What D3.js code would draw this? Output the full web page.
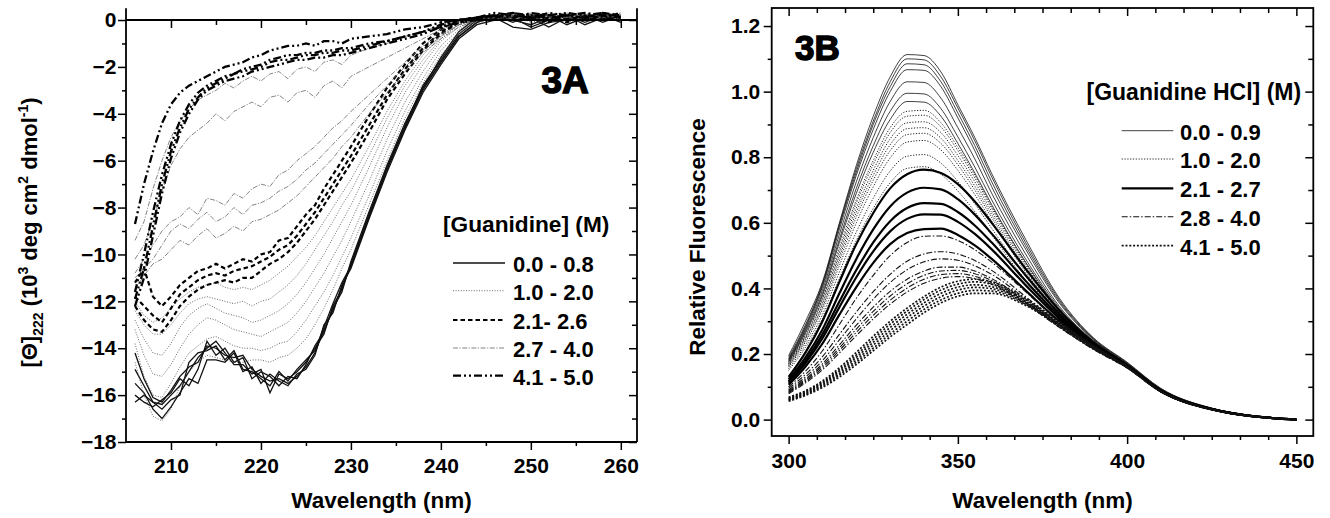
<!DOCTYPE html>
<html>
<head>
<meta charset="utf-8">
<script src="https://cdn.jsdelivr.net/npm/d3@7"></script>
<style>
  body { margin: 0; background: #fff; }
  svg text { font-family: "Liberation Sans", Arial, sans-serif; font-weight: bold; fill: #000; white-space: pre; }
</style>
</head>
<body>
<svg id="chart" width="1330" height="518"></svg>
<script>
// ---------- 3A : CD signal, one row per guanidine concentration ----------
const wlA = [206,207,208,209,210,211,212,213,214,215,216,217,218,219,220,221,222,223,224,225,226,227,228,229,230,
  232,234,236,238,240,242,244,246,248,250,252,254,256,258,260];

const cdLow = [ // 0.0 - 0.8 M
  [-14.2,-15.3,-16.1,-16.3,-15.8,-15.2,-14.8,-14.6,-13.9,-14.0,-14.3,-14.4,-14.3,-14.9,-15.2,-15.4,-15.3,-15.5,-15.2,-14.8,-14.2,-13.2,-12.4,-11.4,-10.5,-8.4,-6.4,-4.6,-3.0,-1.8,-0.7,-0.1,0.2,0.0,-0.2,0.1,0.2,-0.1,0.2,0.1],
  [-14.9,-15.6,-16.3,-16.4,-16.0,-15.6,-15.0,-14.4,-14.0,-13.7,-14.2,-14.7,-14.7,-15.1,-14.9,-15.9,-15.1,-15.3,-15.0,-14.6,-14.0,-13.4,-12.2,-11.5,-10.4,-8.3,-6.3,-4.5,-2.8,-1.7,-0.6,0.0,0.1,-0.3,-0.4,-0.1,0.0,0.2,-0.1,0.2],
  [-15.5,-15.9,-16.6,-17.0,-16.5,-15.9,-15.3,-15.5,-14.5,-14.5,-14.6,-14.2,-15.0,-14.8,-15.5,-15.1,-15.4,-15.6,-15.1,-14.9,-14.3,-13.0,-12.5,-11.3,-10.6,-8.5,-6.5,-4.7,-3.1,-1.9,-0.8,-0.2,0.0,0.2,0.1,-0.3,0.1,0.0,0.2,-0.1],
  [-16.0,-16.3,-16.5,-16.2,-15.9,-15.3,-15.6,-14.9,-13.7,-14.3,-14.0,-14.6,-14.4,-15.3,-15.0,-15.2,-15.6,-15.2,-15.3,-14.7,-13.9,-13.3,-12.3,-11.6,-10.3,-8.2,-6.2,-4.4,-2.9,-1.6,-0.5,0.1,0.2,-0.1,0.2,0.2,-0.2,0.1,0.0,0.2],
  [-16.3,-16.0,-16.3,-16.6,-16.2,-16.0,-14.6,-14.2,-14.1,-13.9,-14.5,-14.1,-14.9,-15.0,-15.3,-15.6,-15.0,-15.4,-14.9,-14.5,-14.1,-13.1,-12.1,-11.2,-10.5,-8.4,-6.3,-4.6,-2.9,-1.8,-0.7,-0.1,0.1,0.1,-0.3,0.0,0.2,-0.2,0.1,0.0]
];
const cdMid1 = [ // 1.0 - 2.0 M
  [-14.6,-16.0,-16.9,-17.1,-16.6,-15.6,-15.0,-14.6,-14.3,-14.4,-14.5,-14.6,-14.6,-14.5,-14.5,-14.6,-14.4,-14.3,-14.0,-13.6,-13.0,-12.3,-11.5,-10.6,-9.8,-7.9,-6.0,-4.2,-2.7,-1.5,-0.6,-0.1,0.1,0.0,-0.2,0.1,0.0,0.2,0.1,0.0],
  [-13.8,-15.2,-16.0,-16.1,-15.5,-14.8,-14.2,-13.9,-13.6,-13.5,-13.7,-13.9,-14.0,-14.0,-14.1,-14.0,-13.8,-13.7,-13.3,-12.8,-12.2,-11.6,-10.9,-10.1,-9.3,-7.5,-5.6,-3.9,-2.5,-1.3,-0.5,0.0,0.2,0.1,0.0,-0.1,0.2,0.0,0.1,0.2],
  [-13.2,-14.3,-15.1,-15.2,-14.7,-14.0,-13.4,-13.0,-12.7,-12.8,-13.0,-13.2,-13.3,-13.4,-13.5,-13.3,-13.1,-12.9,-12.5,-12.0,-11.4,-10.8,-10.1,-9.4,-8.6,-6.9,-5.1,-3.5,-2.2,-1.1,-0.4,0.0,0.1,0.2,0.1,0.0,-0.1,0.1,0.2,0.0],
  [-12.8,-13.6,-14.2,-14.3,-13.8,-13.1,-12.6,-12.3,-12.1,-12.3,-12.5,-12.6,-12.7,-12.9,-12.8,-12.6,-12.4,-12.1,-11.7,-11.2,-10.6,-10.0,-9.3,-8.6,-7.9,-6.3,-4.6,-3.1,-1.9,-0.9,-0.3,0.0,0.2,0.0,0.1,0.2,0.0,-0.1,0.1,0.1],
  [-12.4,-13.0,-13.4,-13.4,-13.0,-12.5,-12.1,-11.9,-11.8,-11.9,-12.0,-12.1,-12.0,-12.2,-12.0,-11.9,-11.6,-11.3,-10.9,-10.4,-9.8,-9.2,-8.6,-7.9,-7.3,-5.8,-4.2,-2.8,-1.7,-0.8,-0.2,0.0,0.1,0.2,-0.1,0.1,0.2,0.0,0.2,0.1],
  [-12.0,-12.6,-12.9,-12.7,-12.3,-11.9,-11.6,-11.4,-11.3,-11.2,-11.4,-11.5,-11.4,-11.5,-11.3,-11.1,-10.8,-10.5,-10.1,-9.7,-9.2,-8.6,-8.0,-7.4,-6.8,-5.4,-3.9,-2.6,-1.5,-0.7,-0.2,0.1,0.2,0.1,0.0,0.2,0.1,0.2,0.0,0.1]
];
const cdMid2 = [ // 2.1 - 2.6 M
  [-11.2,-10.6,-11.8,-12.2,-11.8,-11.3,-11.0,-10.7,-10.6,-10.4,-10.6,-10.4,-10.2,-10.3,-10.0,-9.9,-9.4,-9.3,-8.8,-8.3,-7.9,-7.2,-6.6,-6.0,-5.4,-4.1,-2.9,-1.9,-1.0,-0.4,0.0,0.1,0.2,0.0,0.1,-0.1,0.2,0.1,0.0,0.2],
  [-11.8,-12.2,-12.6,-12.9,-12.3,-11.7,-11.4,-11.1,-10.9,-10.8,-10.9,-10.7,-10.6,-10.5,-10.3,-10.1,-9.8,-9.6,-9.2,-8.7,-8.2,-7.6,-7.0,-6.4,-5.8,-4.5,-3.2,-2.1,-1.2,-0.5,-0.1,0.0,0.1,0.2,0.0,0.1,-0.1,0.2,0.1,0.0],
  [-12.2,-12.8,-13.2,-13.3,-12.8,-12.2,-11.8,-11.5,-11.3,-11.2,-11.1,-11.2,-11.0,-11.0,-10.7,-10.4,-10.2,-9.9,-9.5,-9.0,-8.5,-7.9,-7.3,-6.7,-6.1,-4.8,-3.4,-2.3,-1.3,-0.6,-0.1,0.0,0.2,0.1,0.2,0.0,0.1,0.0,0.2,0.1]
];
const cdMid3 = [ // 2.7 - 4.0 M
  [-9.4,-8.6,-7.2,-6.0,-5.0,-4.3,-3.8,-3.4,-3.2,-3.0,-2.7,-2.9,-2.6,-2.4,-2.6,-2.3,-2.2,-2.5,-2.1,-2.0,-2.2,-1.8,-1.7,-1.9,-1.5,-1.2,-1.0,-0.7,-0.5,-0.2,0.0,0.1,0.2,0.1,0.3,0.1,0.2,0.0,0.3,0.2],
  [-10.2,-9.6,-8.5,-7.3,-6.2,-5.5,-5.0,-4.7,-4.4,-4.0,-4.3,-3.9,-3.7,-3.5,-3.7,-3.3,-3.2,-3.5,-3.1,-3.0,-3.3,-2.8,-2.6,-2.9,-2.4,-2.0,-1.6,-1.2,-0.8,-0.4,-0.1,0.0,0.1,0.2,0.0,0.2,0.1,0.3,0.1,0.2],
  [-10.8,-10.2,-9.6,-9.0,-8.6,-8.4,-8.0,-8.3,-7.6,-7.7,-7.9,-7.4,-7.6,-7.2,-7.0,-7.1,-6.6,-6.4,-6.0,-5.7,-5.4,-5.0,-4.6,-4.3,-3.9,-3.2,-2.5,-1.8,-1.1,-0.6,-0.2,0.0,0.2,0.1,0.2,0.0,0.3,0.1,0.2,0.1],
  [-11.0,-10.6,-10.2,-9.6,-9.0,-8.7,-8.9,-8.5,-8.2,-8.6,-8.4,-8.0,-8.3,-7.9,-7.8,-7.6,-7.3,-7.1,-6.8,-6.4,-6.1,-5.7,-5.3,-4.9,-4.5,-3.6,-2.8,-2.0,-1.3,-0.7,-0.2,0.0,0.1,0.3,0.1,0.2,0.0,0.2,0.1,0.3],
  [-11.5,-10.9,-10.4,-10.2,-9.8,-9.4,-9.6,-9.2,-8.9,-9.3,-9.1,-8.8,-9.0,-8.6,-8.5,-8.3,-8.1,-7.8,-7.5,-7.1,-6.7,-6.3,-5.9,-5.4,-5.0,-4.0,-3.1,-2.2,-1.4,-0.8,-0.3,0.0,0.2,0.0,0.2,0.3,0.1,0.2,0.3,0.1]
];
const cdHigh = [ // 4.1 - 5.0 M
  [-8.7,-7.0,-5.6,-4.4,-3.6,-3.1,-2.8,-2.6,-2.4,-2.2,-2.0,-1.9,-1.8,-1.6,-1.5,-1.3,-1.2,-1.1,-1.1,-1.0,-1.1,-0.9,-0.9,-1.0,-0.8,-0.7,-0.6,-0.4,-0.3,-0.1,0.0,0.1,0.2,0.3,0.1,0.2,0.3,0.2,0.1,0.3],
  [-11.6,-10.0,-8.2,-6.6,-5.3,-4.3,-3.6,-3.1,-2.8,-2.6,-2.4,-2.3,-2.1,-2.0,-1.9,-1.7,-1.6,-1.5,-1.5,-1.4,-1.4,-1.3,-1.3,-1.2,-1.2,-1.0,-0.9,-0.7,-0.5,-0.2,0.0,0.1,0.3,0.2,0.1,0.3,0.2,0.1,0.3,0.2],
  [-11.9,-10.6,-8.8,-7.0,-5.6,-4.6,-3.8,-3.3,-2.9,-2.7,-2.5,-2.3,-2.2,-2.1,-2.0,-1.8,-1.7,-1.7,-1.6,-1.5,-1.5,-1.4,-1.4,-1.3,-1.3,-1.1,-0.9,-0.7,-0.5,-0.3,0.0,0.1,0.1,0.3,0.2,0.1,0.2,0.3,0.2,0.1],
  [-12.2,-11.0,-9.2,-7.4,-5.9,-4.8,-4.0,-3.4,-3.0,-2.8,-2.6,-2.5,-2.4,-2.2,-2.1,-2.0,-1.9,-1.8,-1.7,-1.7,-1.6,-1.6,-1.5,-1.5,-1.4,-1.2,-1.0,-0.8,-0.6,-0.3,-0.1,0.0,0.2,0.1,0.3,0.2,0.0,0.2,0.3,0.1]
];
const legendA = ['0.0 - 0.8', '1.0 - 2.0', '2.1- 2.6', '2.7 - 4.0', '4.1 - 5.0'];

// ---------- 3B : tryptophan fluorescence ----------
const wlB = [300,305,310,315,320,325,330,335,340,345,350,355,360,370,380,390,400,410,425,450];

const flLow = [ // 0.0 - 0.9 M
  [0.195,0.30,0.42,0.60,0.775,0.925,1.045,1.113,1.11,1.06,0.96,0.86,0.75,0.55,0.37,0.25,0.175,0.095,0.035,0.0],
  [0.19,0.29,0.415,0.595,0.765,0.91,1.03,1.1,1.097,1.045,0.95,0.85,0.74,0.54,0.365,0.248,0.173,0.094,0.035,0.0],
  [0.185,0.285,0.41,0.59,0.755,0.9,1.015,1.085,1.082,1.03,0.935,0.835,0.725,0.53,0.36,0.246,0.172,0.093,0.034,0.0],
  [0.183,0.28,0.405,0.58,0.745,0.885,1.0,1.067,1.065,1.015,0.92,0.82,0.71,0.52,0.355,0.244,0.17,0.092,0.034,0.0],
  [0.18,0.275,0.395,0.565,0.725,0.86,0.97,1.03,1.028,0.98,0.89,0.795,0.69,0.505,0.345,0.241,0.169,0.091,0.034,0.0],
  [0.177,0.27,0.385,0.55,0.705,0.835,0.94,0.995,0.993,0.948,0.862,0.77,0.67,0.49,0.34,0.239,0.168,0.09,0.033,0.0],
  [0.175,0.265,0.378,0.54,0.69,0.815,0.915,0.97,0.968,0.925,0.842,0.752,0.655,0.48,0.335,0.237,0.167,0.09,0.033,0.0]
];
const flMid1 = [ // 1.0 - 2.0 M
  [0.172,0.26,0.37,0.525,0.67,0.79,0.89,0.94,0.943,0.905,0.83,0.745,0.65,0.48,0.335,0.236,0.167,0.09,0.033,0.0],
  [0.17,0.256,0.365,0.515,0.66,0.778,0.875,0.925,0.928,0.892,0.82,0.737,0.645,0.475,0.332,0.235,0.166,0.089,0.033,0.0],
  [0.168,0.252,0.358,0.505,0.645,0.76,0.856,0.905,0.908,0.875,0.805,0.725,0.635,0.47,0.33,0.234,0.165,0.089,0.033,0.0],
  [0.165,0.247,0.35,0.495,0.632,0.745,0.838,0.887,0.89,0.858,0.79,0.712,0.625,0.463,0.327,0.232,0.164,0.088,0.032,0.0],
  [0.163,0.243,0.343,0.484,0.618,0.73,0.82,0.869,0.873,0.842,0.777,0.7,0.616,0.456,0.324,0.231,0.164,0.088,0.032,0.0],
  [0.16,0.237,0.335,0.47,0.6,0.71,0.798,0.846,0.851,0.822,0.76,0.686,0.605,0.45,0.32,0.23,0.163,0.087,0.032,0.0],
  [0.155,0.228,0.32,0.45,0.572,0.675,0.758,0.803,0.808,0.782,0.726,0.658,0.583,0.437,0.315,0.228,0.162,0.087,0.032,0.0],
  [0.15,0.22,0.308,0.43,0.546,0.644,0.722,0.766,0.771,0.748,0.697,0.634,0.563,0.425,0.31,0.226,0.161,0.086,0.031,0.0]
];
const flMid2 = [ // 2.1 - 2.7 M
  [0.13,0.205,0.3,0.42,0.535,0.63,0.705,0.748,0.762,0.752,0.718,0.665,0.6,0.46,0.333,0.236,0.166,0.088,0.032,0.0],
  [0.123,0.19,0.275,0.385,0.49,0.58,0.65,0.692,0.707,0.702,0.672,0.625,0.567,0.44,0.323,0.233,0.165,0.088,0.032,0.0],
  [0.117,0.18,0.26,0.36,0.456,0.54,0.605,0.645,0.66,0.658,0.633,0.592,0.54,0.423,0.315,0.23,0.164,0.087,0.032,0.0],
  [0.112,0.172,0.248,0.343,0.434,0.513,0.574,0.612,0.626,0.625,0.603,0.566,0.519,0.41,0.308,0.228,0.163,0.087,0.032,0.0],
  [0.106,0.162,0.232,0.32,0.404,0.478,0.535,0.569,0.581,0.582,0.563,0.531,0.49,0.394,0.3,0.225,0.162,0.086,0.031,0.0]
];
const flMid3 = [ // 2.8 - 4.0 M
  [0.1,0.148,0.21,0.29,0.37,0.44,0.5,0.54,0.559,0.56,0.546,0.518,0.48,0.39,0.298,0.223,0.161,0.086,0.031,0.0],
  [0.095,0.138,0.192,0.26,0.328,0.39,0.443,0.483,0.505,0.512,0.505,0.485,0.455,0.375,0.291,0.22,0.16,0.085,0.031,0.0],
  [0.09,0.13,0.18,0.243,0.307,0.367,0.418,0.457,0.481,0.49,0.486,0.469,0.443,0.368,0.288,0.218,0.159,0.085,0.031,0.0],
  [0.087,0.124,0.17,0.228,0.288,0.343,0.391,0.428,0.453,0.465,0.465,0.453,0.43,0.362,0.285,0.217,0.159,0.085,0.031,0.0],
  [0.084,0.12,0.164,0.219,0.276,0.33,0.377,0.414,0.44,0.453,0.455,0.445,0.424,0.358,0.283,0.216,0.158,0.084,0.031,0.0],
  [0.082,0.116,0.158,0.211,0.266,0.318,0.364,0.401,0.428,0.442,0.445,0.437,0.418,0.355,0.282,0.215,0.158,0.084,0.031,0.0],
  [0.079,0.112,0.152,0.203,0.256,0.307,0.352,0.389,0.416,0.431,0.436,0.43,0.413,0.352,0.281,0.214,0.157,0.084,0.031,0.0]
];
const flHigh = [ // 4.1 - 5.0 M
  [0.068,0.088,0.118,0.158,0.205,0.254,0.3,0.34,0.375,0.404,0.422,0.428,0.42,0.37,0.298,0.226,0.163,0.087,0.031,0.0],
  [0.066,0.085,0.114,0.152,0.197,0.245,0.291,0.331,0.366,0.395,0.413,0.42,0.413,0.365,0.295,0.224,0.162,0.086,0.031,0.0],
  [0.063,0.082,0.11,0.147,0.19,0.236,0.281,0.321,0.356,0.385,0.404,0.411,0.405,0.36,0.292,0.223,0.161,0.086,0.031,0.0],
  [0.061,0.079,0.106,0.141,0.182,0.227,0.271,0.311,0.346,0.375,0.395,0.403,0.399,0.356,0.29,0.222,0.161,0.086,0.031,0.0],
  [0.059,0.077,0.102,0.136,0.175,0.218,0.261,0.3,0.336,0.365,0.385,0.394,0.392,0.352,0.288,0.221,0.16,0.085,0.031,0.0],
  [0.056,0.074,0.098,0.13,0.168,0.21,0.252,0.29,0.326,0.356,0.376,0.385,0.385,0.348,0.286,0.22,0.16,0.085,0.031,0.0]
];
const legendB = ['0.0 - 0.9', '1.0 - 2.0', '2.1 - 2.7', '2.8 - 4.0', '4.1 - 5.0'];

// ---------- drawing ----------
const svg = d3.select('#chart');

const xA = d3.scaleLinear([205, 261.8], [126, 637]);
const yA = d3.scaleLinear([-18, 0.5], [442, 8.3]);
const xB = d3.scaleLinear([295, 455], [771.7, 1313.3]);
const yB = d3.scaleLinear([-0.05, 1.255], [436, 8]);

const stylesA = [
  { stroke: '#111', width: 1.3, dash: null },
  { stroke: '#444', width: 0.8, dash: '1,1.6' },
  { stroke: '#000', width: 2.2, dash: '4.5,3' },
  { stroke: '#666', width: 0.8, dash: '5,1.5,1.2,1.5' },
  { stroke: '#000', width: 2.3, dash: '8,3,2,3,2,3' },
];
const stylesB = [
  { stroke: '#111', width: 0.8, dash: null },
  { stroke: '#222', width: 1, dash: '1.2,1.6' },
  { stroke: '#000', width: 2.2, dash: null },
  { stroke: '#111', width: 1.1, dash: '6,2,1.5,2' },
  { stroke: '#111', width: 1.7, dash: '2,1.8' },
];

const styled = (sel, s) => sel
  .attr('fill', 'none')
  .attr('stroke', s.stroke)
  .attr('stroke-width', s.width)
  .attr('stroke-dasharray', s.dash);

const drawGroups = (groups, styles, wl, x, y, curve) => {
  const line = d3.line().x((d, i) => x(wl[i])).y(d => y(d)).curve(curve);
  groups.forEach((group, gi) => {
    group.forEach(series => {
      styled(svg.append('path'), styles[gi]).attr('d', line(series));
    });
  });
};

const addAxis = (axisFn, scale, translate, values, size, pad, format) => {
  const axis = axisFn(scale).tickValues(values).tickSize(size).tickPadding(pad)
    .tickFormat(format || (() => ''));
  const g = svg.append('g').attr('transform', translate).call(axis);
  g.select('.domain').remove();
  g.attr('font-size', 21).attr('font-family', null);
  g.selectAll('line').attr('stroke', '#000').attr('stroke-width', 1.5);
  return g;
};

const minus = d => d < 0 ? '\u2212' + Math.abs(d) : String(d);

// curves
drawGroups([cdLow, cdMid1, cdMid2, cdMid3, cdHigh], stylesA, wlA, xA, yA, d3.curveLinear);
drawGroups([flLow, flMid1, flMid2, flMid3, flHigh], stylesB, wlB, xB, yB, d3.curveMonotoneX);

// frame A (top axis sits on the zero line)
const frameA = svg.append('g').attr('stroke', '#000').attr('stroke-width', 1.8);
frameA.append('line').attr('x1', xA.range()[0]).attr('x2', xA.range()[0]).attr('y1', yA.range()[1]).attr('y2', yA.range()[0]);
frameA.append('line').attr('x1', xA.range()[1]).attr('x2', xA.range()[1]).attr('y1', yA.range()[1]).attr('y2', yA.range()[0]);
frameA.append('line').attr('x1', xA.range()[0]).attr('x2', xA.range()[1]).attr('y1', yA.range()[0]).attr('y2', yA.range()[0]);
frameA.append('line').attr('x1', xA.range()[0]).attr('x2', xA.range()[1]).attr('y1', yA(0)).attr('y2', yA(0));

const majXA = d3.range(210, 261, 10), minXA = d3.range(215, 260, 10);
const majYA = d3.range(-18, 1, 2), minYA = d3.range(-17, 0, 2);
addAxis(d3.axisBottom, xA, `translate(0,${yA.range()[0]})`, majXA, 8, 8, d => d);
addAxis(d3.axisBottom, xA, `translate(0,${yA.range()[0]})`, minXA, 4, 0);
addAxis(d3.axisTop, xA, `translate(0,${yA(0)})`, majXA, -8, 0);
addAxis(d3.axisTop, xA, `translate(0,${yA(0)})`, minXA, -5, 0);
addAxis(d3.axisLeft, yA, `translate(${xA.range()[0]},0)`, majYA, 8, 1.5, minus);
addAxis(d3.axisLeft, yA, `translate(${xA.range()[0]},0)`, minYA, 4, 0);
addAxis(d3.axisRight, yA, `translate(${xA.range()[1]},0)`, majYA, -8, 0);
addAxis(d3.axisRight, yA, `translate(${xA.range()[1]},0)`, minYA, -5, 0);

// frame B
svg.append('rect')
  .attr('x', xB.range()[0]).attr('y', yB.range()[1])
  .attr('width', xB.range()[1] - xB.range()[0]).attr('height', yB.range()[0] - yB.range()[1])
  .attr('fill', 'none').attr('stroke', '#000').attr('stroke-width', 1.8);

const majXB = [300, 350, 400, 450];
const minXB = d3.range(0, 18).filter(k => k % 6 !== 0).map(k => 300 + k * 50 / 6);
const majYB = d3.range(0, 1.21, 0.2).map(v => +v.toFixed(1));
const minYB = d3.range(0.1, 1.2, 0.2).map(v => +v.toFixed(1));
addAxis(d3.axisBottom, xB, `translate(0,${yB.range()[0]})`, majXB, 8, 9, d => d);
addAxis(d3.axisBottom, xB, `translate(0,${yB.range()[0]})`, minXB, 4, 0);
addAxis(d3.axisTop, xB, `translate(0,${yB.range()[1]})`, majXB, -8, 0);
addAxis(d3.axisTop, xB, `translate(0,${yB.range()[1]})`, minXB, -5, 0);
addAxis(d3.axisLeft, yB, `translate(${xB.range()[0]},0)`, majYB, 8, 3.5, d3.format('.1f'));
addAxis(d3.axisLeft, yB, `translate(${xB.range()[0]},0)`, minYB, 4, 0);
addAxis(d3.axisRight, yB, `translate(${xB.range()[1]},0)`, majYB, -8, 0);
addAxis(d3.axisRight, yB, `translate(${xB.range()[1]},0)`, minYB, -5, 0);

// axis titles
svg.append('text').attr('x', 381.5).attr('y', 508).attr('text-anchor', 'middle')
  .attr('font-size', 22.5).text('Wavelength (nm)');
svg.append('text').attr('x', 1042.5).attr('y', 508).attr('text-anchor', 'middle')
  .attr('font-size', 22.5).text('Wavelength (nm)');

const yTitleA = svg.append('text').attr('transform', 'translate(37,232.5) rotate(-90)')
  .attr('text-anchor', 'middle').attr('font-size', 22);
[
  ['[\u0398]', 0, 22], ['222', 6, 14], [' (10', -6, 22], ['3', -9, 14],
  [' deg cm', 9, 22], ['2', -9, 14], [' dmol', 9, 22], ['-1', -9, 14], [')', 9, 22]
].forEach(([t, dy, fs]) => yTitleA.append('tspan').attr('dy', dy).attr('font-size', fs).text(t));

svg.append('text').attr('transform', 'translate(705,237) rotate(-90)')
  .attr('text-anchor', 'middle').attr('font-size', 22.5).text('Relative Fluorescence');

// panel tags
svg.append('text').attr('x', 541.5).attr('y', 93).attr('font-size', 37)
  .attr('stroke', '#000').attr('stroke-width', 1.4).text('3A');
svg.append('text').attr('x', 795).attr('y', 60).attr('font-size', 35)
  .attr('stroke', '#000').attr('stroke-width', 1.4).text('3B');

// legends
const legend = (title, titleSize, tx, ty, labels, styles, lx1, lx2, textX, rows) => {
  svg.append('text').attr('x', tx).attr('y', ty).attr('font-size', titleSize).text(title);
  labels.forEach((lab, i) => {
    styled(svg.append('line'), styles[i])
      .attr('x1', lx1).attr('x2', lx2).attr('y1', rows[i] - 1).attr('y2', rows[i] - 1);
    svg.append('text').attr('x', textX).attr('y', rows[i] + 8).attr('font-size', 22).text(lab);
  });
};
legend('[Guanidine] (M)', 22.7, 443, 231.5, legendA, stylesA, 453, 505, 513, [264, 291.7, 321, 349, 376.7]);
legend('[Guanidine HCl] (M)', 23, 1086.5, 100, legendB, stylesB, 1121.7, 1173.3, 1180, [131.7, 160, 189.3, 217.7, 246.7]);
</script>
</body>
</html>
